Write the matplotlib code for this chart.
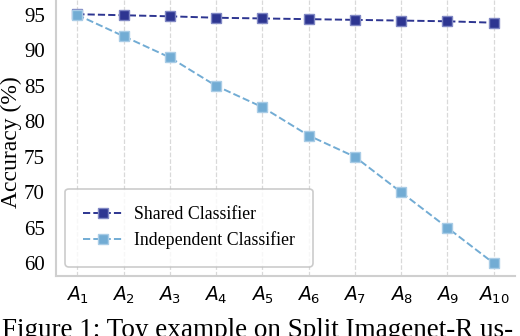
import matplotlib.pyplot as plt
import numpy as np

tasks = ["$A_{%d}$" % i for i in range(1, 11)]
shared_acc = [95.1, 94.95, 94.8, 94.6, 94.5, 94.4, 94.3, 94.2, 94.1, 93.9]
indep_acc = [95.0, 92.0, 89.0, 85.0, 82.0, 78.0, 75.0, 70.0, 65.0, 60.0]
yticks = [60, 65, 70, 75, 80, 85, 90, 95]

serif = ['Liberation Serif', 'DejaVu Serif']

fig = plt.figure(figsize=(5.2, 3.36), dpi=100)
ax = fig.add_axes([56 / 520, 60 / 336, 459 / 520, 276 / 336])

x = np.arange(len(tasks))
ax.plot(x, shared_acc, linestyle='--', marker='s', color='#2d3591', markersize=6.5,
        markeredgecolor='#8088c4', markeredgewidth=1.0, linewidth=1.4, label='Shared Classifier')
ax.plot(x, indep_acc, linestyle='--', marker='s', color='#72acd4', markersize=6.5,
        markeredgecolor='#a9cce6', markeredgewidth=1.0, linewidth=1.4, label='Independent Classifier')

ax.set_xlim(-0.46, 9.46)
ax.set_ylim(58.2, 97.1)
ax.set_xticks(x)
ax.set_xticklabels(tasks, fontsize=13.5)
ax.set_yticks(yticks)
ax.set_yticklabels([str(v) for v in yticks], fontsize=15, family=serif)
ax.tick_params(axis='y', length=0, pad=8)
ax.tick_params(axis='x', length=0, pad=6)
ax.set_ylabel('Accuracy (%)', fontsize=17, family=serif)
ax.yaxis.set_label_coords(-34 / 459, 0.485)

ax.grid(axis='x', linestyle='--', color='#d9d9d9', linewidth=0.9)
ax.set_axisbelow(True)
for s in ['top', 'right']:
    ax.spines[s].set_visible(False)
for s in ['left', 'bottom']:
    ax.spines[s].set_color('#cfcfcf')
    ax.spines[s].set_linewidth(1.5)

leg = ax.legend(loc='lower left', bbox_to_anchor=(9 / 459, 9 / 276), borderaxespad=0,
                prop={'family': serif, 'size': 12.8},
                fancybox=True, frameon=True, borderpad=1.0, labelspacing=0.45, handlelength=2.3,
                handletextpad=0.6)
leg.get_frame().set_edgecolor('#bfbfbf')
leg.get_frame().set_linewidth(1.2)

fig.text(0.004, -0.02, 'Figure 1: Toy example on Split Imagenet-R us-', fontsize=19.5, family=serif,
         va='bottom', ha='left')

fig.savefig('out.png', dpi=100)
